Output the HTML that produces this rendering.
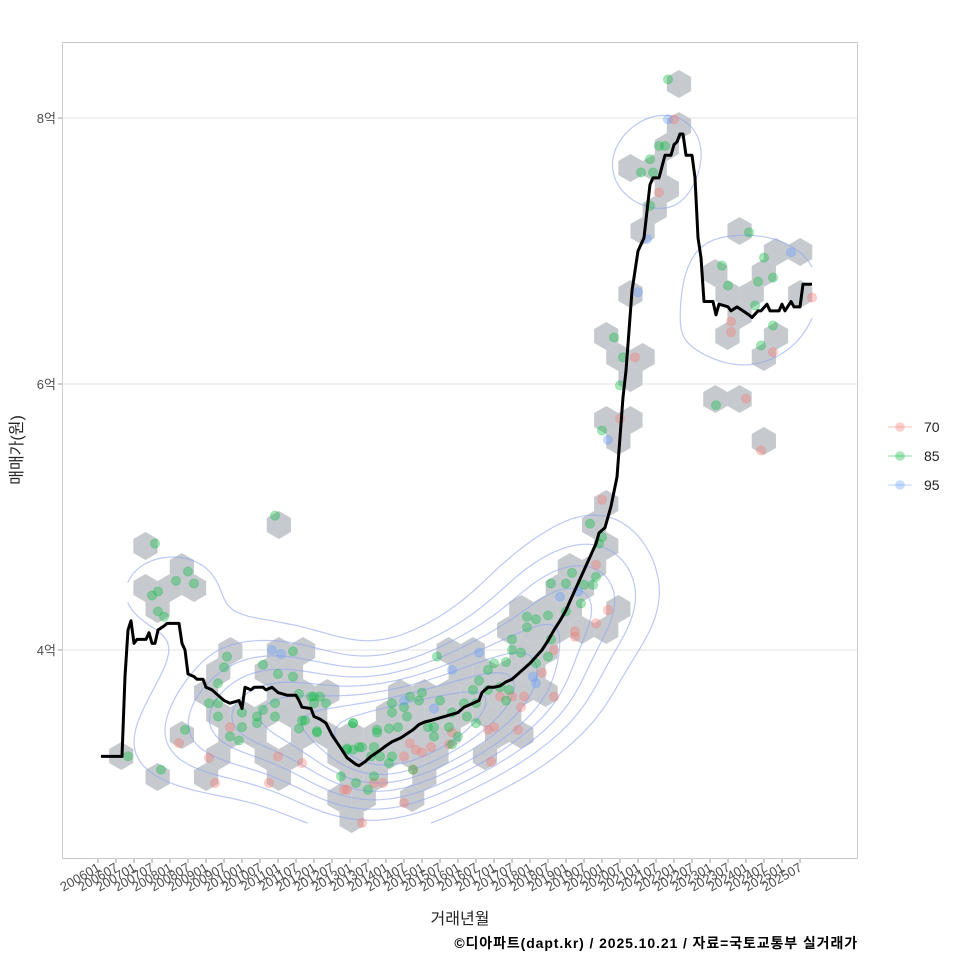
<!DOCTYPE html>
<html><head><meta charset="utf-8">
<style>
html,body{margin:0;padding:0;background:#fff;}
svg{display:block;font-family:"Liberation Sans","Noto Sans CJK KR",sans-serif;}
</style></head>
<body>
<svg id="chart" width="960" height="960" viewBox="0 0 960 960">
  <rect x="0" y="0" width="960" height="960" fill="#fff"/>
  <rect x="62.5" y="42.5" width="795" height="816" fill="#fff" stroke="#cccccc" stroke-width="1"/>
  <g id="grid"></g>
  <g id="hexes"></g>
  <g id="contours"></g>
  <g id="points"></g>
  <g id="line"></g>
  <g id="yaxis"></g>
  <g id="xaxis"></g>
  <text x="22" y="450" transform="rotate(-90 22 450)" text-anchor="middle" font-size="16" fill="#222">매매가(원)</text>
  <text x="460" y="924" text-anchor="middle" font-size="16" fill="#222">거래년월</text>
  <text x="858" y="948" text-anchor="end" font-size="14" font-weight="bold" letter-spacing="0.9" fill="#000">©디아파트(dapt.kr) / 2025.10.21 / 자료=국토교통부 실거래가</text>
  <g id="legend"></g>
</svg>
<script>
// ---- data (months since 2006-01, price in 억) ----
const tickLabels = ["200601","200607","200701","200707","200801","200807","200901","200907","201001","201007","201101","201107","201201","201207","201301","201307","201401","201407","201501","201507","201601","201607","201701","201707","201801","201807","201901","201907","202001","202007","202101","202107","202201","202207","202301","202307","202401","202407","202501","202507"];
const yTicks = [4, 6, 8];
const yTickLabels = ["4억", "6억", "8억"];
const lineMonths = [1,8,9,10,11,12,13,16,17,18,19,20,22,23,27,28,29,30,32,33,35,36,38,39,42,44,47,48,49,51,52,55,56,58,60,63,66,67,68,71,72,74,76,78,81,83,86,87,89,91,93,96,98,101,103,105,107,109,111,114,117,120,122,125,127,128,130,132,134,136,138,140,142,144,146,148,150,152,154,156,158,160,162,164,166,167,169,170,171,173,174,175,176,177,178,180,181,182,183,184,185,187,189,191,192,193,194,195,196,198,199,200,201,202,205,206,207,210,211,213,215,217,218,220,221,223,224,227,228,229,231,232,234,235,238];
const lineValues = [3.2,3.2,3.8,4.15,4.22,4.05,4.08,4.08,4.13,4.05,4.05,4.15,4.18,4.2,4.2,4.05,4.0,3.82,3.8,3.78,3.78,3.72,3.7,3.68,3.62,3.6,3.62,3.56,3.72,3.7,3.72,3.72,3.7,3.72,3.68,3.66,3.66,3.62,3.57,3.56,3.5,3.48,3.45,3.36,3.26,3.19,3.14,3.13,3.16,3.2,3.23,3.28,3.31,3.34,3.37,3.4,3.44,3.46,3.47,3.49,3.51,3.53,3.57,3.6,3.62,3.68,3.72,3.72,3.73,3.76,3.78,3.82,3.86,3.9,3.95,4.0,4.07,4.15,4.22,4.3,4.4,4.5,4.6,4.7,4.8,4.88,4.92,5.0,5.08,5.3,5.6,5.9,6.1,6.4,6.7,7.0,7.05,7.1,7.3,7.5,7.55,7.55,7.72,7.72,7.8,7.82,7.88,7.88,7.72,7.72,7.55,7.1,6.95,6.62,6.62,6.52,6.6,6.58,6.55,6.58,6.55,6.52,6.5,6.55,6.55,6.6,6.55,6.55,6.6,6.55,6.62,6.58,6.58,6.75,6.75];

const pts70m = [44,27,37,60,68,39,57,83,168,166,170,166,159,159,152,148,142,141,138,134,152,132,130,140,131,118,117,111,108,104,106,102,105,95,92,82,102,88,192,187,179,211,211,238,225,216,221,174];
const pts70v = [3.42,3.30,3.19,3.20,3.15,3.00,3.00,2.95,5.13,4.64,4.30,4.20,4.14,4.10,4.00,3.83,3.65,3.57,3.65,3.65,3.65,3.42,3.40,3.40,3.16,3.38,3.29,3.27,3.23,3.30,3.25,3.20,3.10,3.00,3.00,2.95,2.85,2.70,7.99,7.44,6.20,6.47,6.39,6.65,6.24,5.89,5.50,5.74];
const pts85m = [19,30,26,32,18,20,20,22,10,21,43,42,55,60,65,65,40,37,40,48,40,44,47,48,53,55,59,59,53,67,71,72,74,76,69,67,73,85,29,81,86,90,92,93,83,85,88,59,
  164,168,167,158,162,165,166,151,156,161,156,150,146,143,151,150,146,138,138,141,136,132,130,127,125,130,134,137,136,126,122,123,126,118,114,113,108,104,102,103,98,98,107,110,112,112,117,118,120,100,97,93,92,85,83,87,91,94,98,97,105,68,72,73,143,
  190,187,189,184,181,185,184,217,208,222,220,225,210,219,225,221,172,175,174,168,206];
const pts85v = [4.80,4.59,4.52,4.50,4.41,4.44,4.29,4.25,3.20,3.10,3.95,3.87,3.89,3.82,3.80,3.99,3.75,3.60,3.60,3.53,3.50,3.35,3.32,3.42,3.50,3.55,3.60,3.50,3.45,3.67,3.65,3.60,3.65,3.60,3.47,3.41,3.39,3.45,3.40,3.05,3.00,2.95,3.05,3.38,3.25,3.25,3.27,5.01,
  4.95,4.85,4.80,4.58,4.49,4.49,4.55,4.50,4.50,4.35,4.29,4.26,4.23,4.17,4.08,3.95,3.90,4.08,4.00,3.98,3.91,3.90,3.85,3.77,3.70,3.70,3.72,3.70,3.62,3.60,3.60,3.50,3.45,3.53,3.62,3.95,3.68,3.65,3.57,3.50,3.60,3.53,3.62,3.42,3.42,3.35,3.42,3.29,3.35,3.42,3.41,3.40,3.27,3.45,3.26,3.27,3.20,3.20,3.20,3.15,3.10,3.47,3.65,3.38,4.25,
  8.29,7.79,7.79,7.69,7.59,7.59,7.34,7.14,6.89,6.95,6.77,6.80,6.74,6.59,6.44,6.29,6.35,6.20,5.99,5.65,5.84];
const pts95m = [58,61,127,118,146,145,154,160,112,102,190,183,180,231,170];
const pts95v = [4.00,3.97,3.98,3.85,3.75,3.80,4.40,4.44,3.56,3.62,7.99,7.09,6.69,6.99,5.58];
const seriesNames = ["70","85","95"];

// ---- scales ----
function xs(m){ return 98 + 3*m; }
function ys(v){ return 650 - 133*(v-4); }
const NS = "http://www.w3.org/2000/svg";
function mk(tag, attrs, parent){ const e=document.createElementNS(NS,tag); for(const k in attrs) e.setAttribute(k, attrs[k]); parent.appendChild(e); return e; }

const grid = document.getElementById('grid'), yax = document.getElementById('yaxis');
yTicks.forEach((t,i)=>{
  const y = ys(t);
  const g = mk('line',{x1:63,x2:857,y1:y,y2:y,stroke:'#e3e3e3','stroke-width':1},grid);
  
  
  const tk = mk('line',{x1:58,x2:62,y1:y,y2:y,stroke:'#999','stroke-width':1},yax);
  
  
  const tx = mk('text',{x:56,y:y+5,'text-anchor':'end','font-size':13,fill:'#4d4d4d'},yax);
  tx.textContent = yTickLabels[i];
  
  
});

const xax = document.getElementById('xaxis');
tickLabels.forEach((lab,i)=>{
  const x = xs(i*6);
  const tk = mk('line',{x1:x,x2:x,y1:859,y2:863,stroke:'#999','stroke-width':1},xax);
  
  
  const tx = mk('text',{x:x+3,y:870,'text-anchor':'end','font-size':13,fill:'#4d4d4d',transform:`rotate(-30 ${x+3} 870)`},xax);
  tx.textContent = lab;
  
  
});

const all = [];
[[pts70m,pts70v],[pts85m,pts85v],[pts95m,pts95v]].forEach(([m,v],s)=>{ m.forEach((mm,i)=>all.push({x:xs(mm),y:ys(v[i]),s})); });

// hexbin
const R = 14, DX = R*Math.sqrt(3), DY = R*1.5;
const bins = {};
all.forEach(p=>{
  let py = p.y/DY, pj = Math.round(py), px = p.x/DX - (pj&1)/2, pi = Math.round(px), py1 = py-pj;
  if (Math.abs(py1)*3 > 1){
    const px1 = px-pi, pi2 = pi + (px<pi?-1:1)/2, pj2 = pj + (py<pj?-1:1), px2 = px - pi2, py2 = py - pj2;
    if (px1*px1+py1*py1 > px2*px2+py2*py2){ pi = pi2 + (pj&1?1:-1)/2; pj = pj2; }
  }
  bins[pi+','+pj] = [pi,pj];
});
const hexG = document.getElementById('hexes');
const hw = DX/2;
Object.values(bins).forEach(([i,j])=>{
  const cx = (i + (j&1)/2)*DX, cy = j*DY;
  const d = `M${cx},${cy-R}L${cx+hw},${cy-R/2}L${cx+hw},${cy+R/2}L${cx},${cy+R}L${cx-hw},${cy+R/2}L${cx-hw},${cy-R/2}Z`;
  const h = mk('path',{d,fill:'#c6cacf'},hexG);
  
  
});

// KDE contours
(function(){
  const xsArr = all.map(p=>p.x), ysArr = all.map(p=>p.y);
  const x0 = Math.min(...xsArr), x1 = Math.max(...xsArr), y0 = Math.min(...ysArr), y1 = Math.max(...ysArr);
  const N = 120, sx = 52, sy = 33;
  const gx = [], gy = [], Z = [];
  for(let i=0;i<N;i++){ gx.push(x0+(x1-x0)*i/(N-1)); gy.push(y0+(y1-y0)*i/(N-1)); }
  let mx = 0;
  for(let j=0;j<N;j++){ Z.push([]); for(let i=0;i<N;i++){ let s=0; for(const p of all){ const a=(gx[i]-p.x)/sx, b=(gy[j]-p.y)/sy; s+=Math.exp(-0.5*(a*a+b*b)); } Z[j].push(s); if(s>mx) mx=s; } }
  const cg = document.getElementById('contours');
  const levels = [0.13,0.23,0.33,0.43,0.53,0.63,0.73,0.83].map(f=>f*mx);
  levels.forEach(L=>{
    let d = '';
    for(let j=0;j<N-1;j++) for(let i=0;i<N-1;i++){
      const v = [Z[j][i],Z[j][i+1],Z[j+1][i+1],Z[j+1][i]];
      const c = [[gx[i],gy[j]],[gx[i+1],gy[j]],[gx[i+1],gy[j+1]],[gx[i],gy[j+1]]];
      const cr = [];
      for(let e=0;e<4;e++){ const a=v[e], b=v[(e+1)%4]; if((a<L)!==(b<L)){ const t=(L-a)/(b-a); const p=c[e], q=c[(e+1)%4]; cr.push([p[0]+(q[0]-p[0])*t, p[1]+(q[1]-p[1])*t]); } }
      if(cr.length===2) d += `M${cr[0][0].toFixed(1)},${cr[0][1].toFixed(1)}L${cr[1][0].toFixed(1)},${cr[1][1].toFixed(1)}`;
      else if(cr.length===4) d += `M${cr[0][0].toFixed(1)},${cr[0][1].toFixed(1)}L${cr[1][0].toFixed(1)},${cr[1][1].toFixed(1)}M${cr[2][0].toFixed(1)},${cr[2][1].toFixed(1)}L${cr[3][0].toFixed(1)},${cr[3][1].toFixed(1)}`;
    }
    const pth = mk('path',{d,fill:'none',stroke:'#8fa3ee','stroke-opacity':0.6,'stroke-width':1.2,'stroke-linecap':'round'},cg);
    
    
  });
})();

const colors = ['#F8766D','#00BA38','#619CFF'];
const pg = document.getElementById('points');
all.forEach(p=>{
  const c = mk('circle',{cx:p.x,cy:p.y,r:4.6,fill:colors[p.s],'fill-opacity':0.35,stroke:colors[p.s],'stroke-opacity':0.25},pg);
  
  
});

const lg = document.getElementById('line');
const pl = mk('polyline',{points:lineMonths.map((m,i)=>xs(m)+','+ys(lineValues[i])).join(' '),fill:'none',stroke:'#000','stroke-width':3,'stroke-linejoin':'round'},lg);



const leg = document.getElementById('legend');
seriesNames.forEach((n,i)=>{
  const y = 427 + i*29;
  const g = mk('g',{},leg);
  
  
  mk('line',{x1:888,x2:912,y1:y,y2:y,stroke:colors[i],'stroke-opacity':0.3,'stroke-width':1.5},g);
  mk('circle',{cx:900,cy:y,r:4.8,fill:colors[i],'fill-opacity':0.35},g);
  const t = mk('text',{x:924,y:y+5,'font-size':14,fill:'#222'},g);
  t.textContent = n;
});
</script>
</body></html>
